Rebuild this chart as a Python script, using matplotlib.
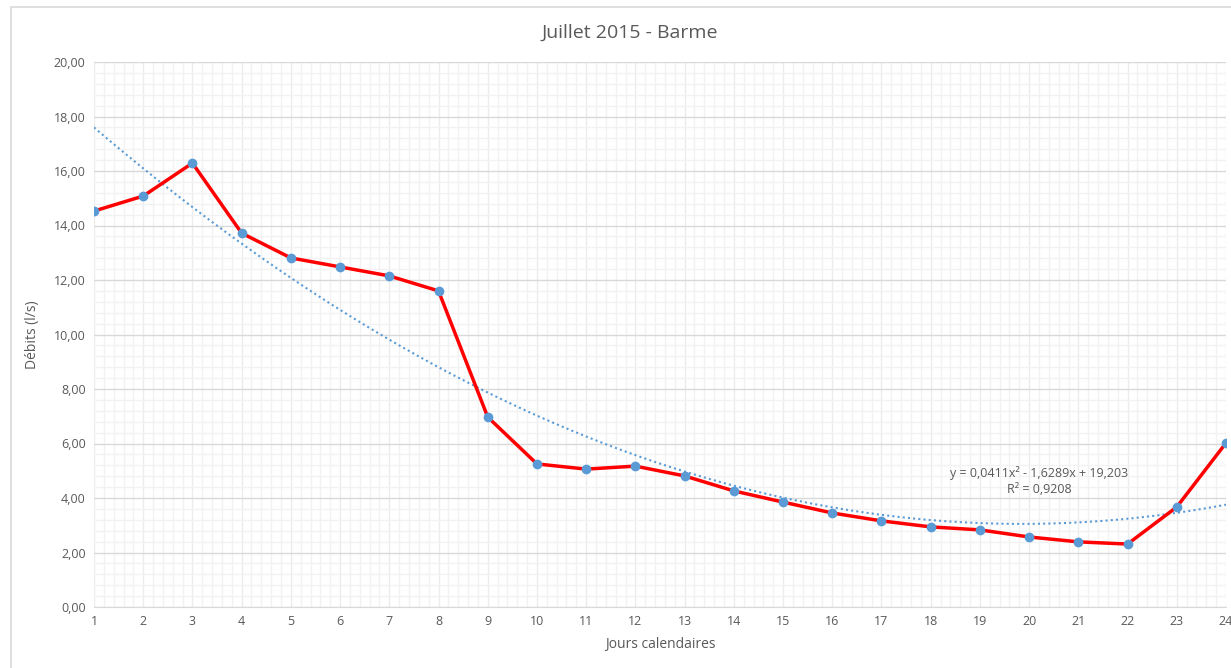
import matplotlib.pyplot as plt
import numpy as np
from matplotlib.ticker import MultipleLocator, FuncFormatter
from matplotlib.patches import Rectangle

plt.rcParams['font.family'] = ['Open Sans', 'DejaVu Sans']

# data
jours = np.arange(1, 25)
debits = [14.53, 15.08, 16.29, 13.72, 12.81, 12.48, 12.15, 11.60, 6.97, 5.25,
          5.06, 5.17, 4.81, 4.26, 3.85, 3.45, 3.16, 2.94, 2.83, 2.57,
          2.39, 2.31, 3.67, 6.02]
titre = "Juillet 2015 - Barme"
equation = "y = 0,0411x² - 1,6289x + 19,203\nR² = 0,9208"

gris_texte = '#595959'
bleu = '#5b9bd5'

fig = plt.figure(figsize=(12.31, 6.68), dpi=100)
ax = fig.add_axes([94 / 1231, 1 - 607 / 668, (1226 - 94) / 1231, (607 - 62) / 668])

# cadre du graphique
fig.patches.append(Rectangle((11 / 1231, -0.1), 1.2, 1 - 7 / 668 + 0.1,
                             transform=fig.transFigure, fill=False,
                             edgecolor='#d9d9d9', linewidth=1.2))

# courbe de tendance polynomiale
coef = np.polyfit(jours, debits, 2)
xs = np.linspace(1, 24, 200)
ax.plot(xs, np.polyval(coef, xs), linestyle=(0, (1, 1.5)), color=bleu,
        linewidth=1.5, zorder=3)

ax.plot(jours, debits, color='#ff0000', linewidth=2.5, zorder=4)
ax.plot(jours, debits, linestyle='none', marker='o', markersize=6,
        color=bleu, zorder=5)

ax.set_xlim(1, 24)
ax.set_ylim(0, 20)
ax.xaxis.set_major_locator(MultipleLocator(1))
ax.xaxis.set_minor_locator(MultipleLocator(0.2))
ax.yaxis.set_major_locator(MultipleLocator(2))
ax.yaxis.set_minor_locator(MultipleLocator(0.4))
ax.yaxis.set_major_formatter(FuncFormatter(lambda v, p: f"{v:.2f}".replace('.', ',')))

ax.grid(which='major', axis='y', color='#d9d9d9', linewidth=1)
ax.grid(which='major', axis='x', color='#ececec', linewidth=1)
ax.grid(which='minor', color='#f2f2f2', linewidth=1)
ax.set_axisbelow(True)

for s in ['top', 'right', 'left']:
    ax.spines[s].set_visible(False)
ax.spines['bottom'].set_color('#d9d9d9')
ax.tick_params(which='both', length=0, labelsize=9, colors=gris_texte, pad=6)

ax.set_xlabel("Jours calendaires", fontsize=10, color=gris_texte, labelpad=6)
ax.set_ylabel("Débits (l/s)", fontsize=10, color=gris_texte, labelpad=10)
fig.text(630 / 1231, 1 - 33 / 668, titre, ha='center', va='center',
         fontsize=14, color=gris_texte)

ax.text(20.2, 4.62, equation, ha='center', va='center', fontsize=9,
        color=gris_texte, linespacing=1.25)

fig.savefig("out.png", dpi=100)
